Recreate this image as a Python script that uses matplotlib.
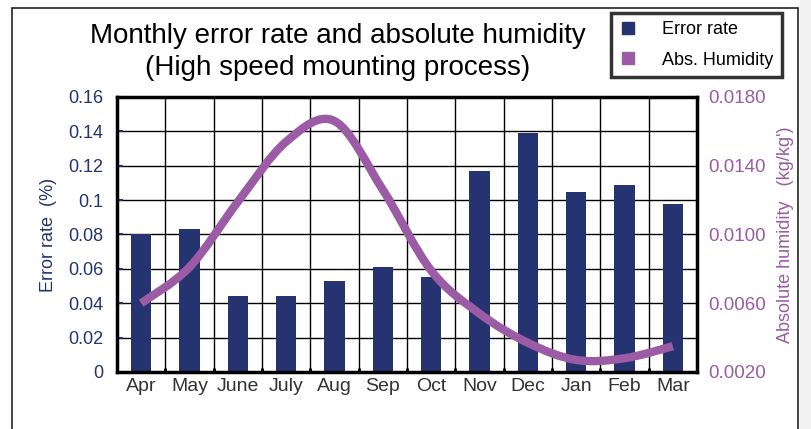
import matplotlib.pyplot as plt
import numpy as np
from matplotlib.path import Path
from matplotlib.patches import PathPatch, Rectangle
from matplotlib.lines import Line2D
from matplotlib.ticker import FormatStrFormatter

months = ['Apr', 'May', 'June', 'July', 'Aug', 'Sep', 'Oct', 'Nov', 'Dec', 'Jan', 'Feb', 'Mar']
error_rate = [0.080, 0.083, 0.044, 0.044, 0.053, 0.061, 0.055, 0.117, 0.139, 0.105, 0.109, 0.098]
humidity = [0.0060, 0.0081, 0.0119, 0.0154, 0.0166, 0.0126, 0.0079, 0.0054, 0.0037, 0.0027, 0.0028, 0.0035]

navy = '#253370'
purple = '#9b5ba5'

plt.rcParams['font.family'] = ['Liberation Sans', 'DejaVu Sans']

fig = plt.figure(figsize=(8.12, 4.29), dpi=100)
ax = fig.add_axes([117 / 812, 1 - 372 / 429, 580 / 812, 275 / 429])

x = np.arange(len(months))
ax.bar(x, error_rate, width=0.42, color=navy, zorder=3)
ax.set_xlim(-0.5, 11.5)
ax.set_ylim(0, 0.16)
ax.set_yticks(np.arange(0, 0.161, 0.02))
ax.set_yticklabels(['0', '0.02', '0.04', '0.06', '0.08', '0.1', '0.12', '0.14', '0.16'])
ax.set_xticks(x)
ax.set_xticklabels(months)
ax.set_xticks(np.arange(-0.5, 11.6, 1), minor=True)
ax.grid(True, which='minor', axis='x', color='black', lw=1, zorder=1)
ax.grid(True, which='major', axis='y', color='black', lw=1, zorder=1)
ax.tick_params(axis='y', colors=navy, labelsize=13, direction='in', length=4, width=1.5, pad=10)
ax.tick_params(axis='x', which='major', colors='#333333', labelsize=14, length=0, pad=4)
ax.tick_params(axis='x', which='minor', direction='in', length=3, width=2)
for s in ax.spines.values():
    s.set_linewidth(2.5)
    s.set_zorder(5)
ax.set_ylabel('Error rate  (%)', color=navy, fontsize=13, labelpad=8)

ax2 = ax.twinx()
ax2.set_ylim(0.002, 0.018)
ax2.set_yticks(np.arange(0.002, 0.0181, 0.004))
ax2.yaxis.set_major_formatter(FormatStrFormatter('%.4f'))
ax2.tick_params(axis='y', colors=purple, labelsize=13.5, length=0, pad=8)
for s in ax2.spines.values():
    s.set_visible(False)
ax2.set_ylabel("Absolute humidity   (kg/kg')", color=purple, fontsize=13, labelpad=8)

# smoothed line (Catmull-Rom converted to cubic Bezier, drawn by Path)
pts = np.column_stack([x, humidity])
verts = [pts[0]]
codes = [Path.MOVETO]
for i in range(len(pts) - 1):
    p0 = pts[i - 1] if i > 0 else pts[i]
    p1 = pts[i]
    p2 = pts[i + 1]
    p3 = pts[i + 2] if i + 2 < len(pts) else pts[i + 1]
    verts += [p1 + (p2 - p0) / 6, p2 - (p3 - p1) / 6, p2]
    codes += [Path.CURVE4] * 3
ax2.add_patch(PathPatch(Path(verts, codes), fill=False, edgecolor=purple, lw=6,
                        capstyle='butt', zorder=4))

fig.text(338 / 812, 1 - 36 / 429, 'Monthly error rate and absolute humidity',
         ha='center', va='center', fontsize=20)
fig.text(338 / 812, 1 - 68 / 429, '(High speed mounting process)',
         ha='center', va='center', fontsize=20)

handles = [Line2D([], [], marker='s', ls='', color=navy, markersize=9),
           Line2D([], [], marker='s', ls='', color=purple, markersize=9)]
leg = fig.legend(handles, ['Error rate', 'Abs. Humidity'], loc='upper left',
                 bbox_to_anchor=(611 / 812, 1 - 13 / 429), fontsize=13, frameon=True,
                 fancybox=False, edgecolor='black', handlelength=1.0, handletextpad=1.4,
                 borderpad=0.45, labelspacing=0.75, borderaxespad=0)
leg.get_frame().set_linewidth(2.5)

fig.patches.append(Rectangle((12 / 812, -0.1), 786 / 812, 1.1 - 8 / 429, fill=False,
                             edgecolor='#222222', lw=1.2, transform=fig.transFigure))
fig.patches.append(Rectangle((800 / 812, 0), 12 / 812, 1, color='#f2f2f2',
                             transform=fig.transFigure, zorder=-1))

fig.savefig('out.png', dpi=100)
